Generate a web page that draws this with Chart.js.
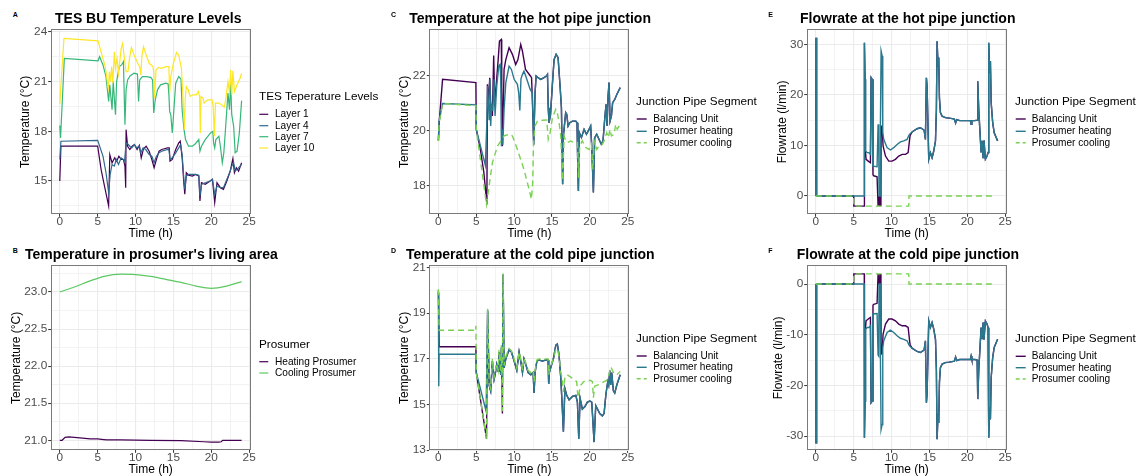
<!DOCTYPE html>
<html><head><meta charset="utf-8">
<script src="https://cdn.jsdelivr.net/npm/chart.js"></script>
<style>
html,body{margin:0;padding:0;background:#fff;width:1140px;height:476px;overflow:hidden;position:relative;font-family:"Liberation Sans",Arial,sans-serif;}
canvas{position:absolute;}
.t{position:absolute;white-space:nowrap;line-height:1;color:#000;}
</style></head><body>
<script>
// ---------------- DATA ----------------
const xMajor = [0,5,10,15,20,25];
const xMinor = [2.5,7.5,12.5,17.5,22.5];

const aNames = ['Layer 1','Layer 4','Layer 7','Layer 10'];
const bNames = ['Heating Prosumer','Cooling Prosumer'];
const pipeNames = ['Balancing Unit','Prosumer heating','Prosumer cooling'];

const aYMajor=[15,18,21,24], aYMinor=[13.5,16.5,19.5,22.5];
const bYMajor=[21,21.5,22,22.5,23], bYMinor=[21.25,21.75,22.25,22.75,23.25];
const cYMajor=[18,20,22], cYMinor=[17,19,21,23];
const dYMajor=[13,15,17,19,21], dYMinor=[14,16,18,20];
const eYMajor=[0,10,20,30], eYMinor=[5,15,25];
const fYMajor=[-30,-20,-10,0], fYMinor=[-25,-15,-5];

// Panel A: TES layers [time h, temperature °C]
const aLayer1=[[0,15.0],[0.15,17.1],[5.0,17.1],[5.45,15.7],[5.9,14.7],[6.45,13.5],[6.6,16.6],[6.9,16.1],[7.25,16.4],[7.5,16.2],[7.8,16.5],[8.1,16.3],[8.4,16.3],[8.6,15.9],[8.7,14.6],[8.75,18.1],[8.95,17.1],[9.25,16.9],[9.55,17.1],[9.85,17.2],[10.2,16.9],[10.5,17.15],[10.75,16.4],[11.05,16.95],[11.4,17.1],[11.8,16.8],[12.15,16.3],[12.45,15.8],[12.75,16.3],[13.1,16.8],[13.45,16.9],[13.8,16.95],[14.2,17.0],[14.45,17.0],[14.55,16.2],[14.85,16.3],[15.3,16.9],[15.7,17.3],[15.9,17.4],[16.15,16.4],[16.35,15.0],[16.5,14.2],[16.7,15.5],[17.0,15.35],[17.5,15.3],[17.9,15.4],[18.35,15.3],[18.5,13.8],[18.7,14.9],[19.2,14.8],[19.85,15.0],[20.15,15.1],[20.45,13.7],[20.75,14.9],[21.2,14.6],[21.6,14.5],[22.05,15.0],[22.5,15.6],[22.85,16.35],[23.05,15.5],[23.3,15.8],[23.6,15.6],[24.0,16.1]];
const aLayer4=[[0,16.3],[0.15,17.4],[5.0,17.45],[5.7,16.5],[6.1,15.5],[6.45,14.3],[6.65,15.4],[6.9,16.0],[7.2,15.9],[7.45,16.3],[7.75,16.0],[8.1,16.4],[8.4,16.3],[8.55,16.2],[8.75,17.3],[8.95,17.25],[9.25,17.1],[9.5,17.0],[9.85,17.2],[10.15,17.0],[10.5,17.1],[10.7,16.7],[11.0,17.0],[11.35,16.9],[11.8,16.6],[12.15,16.5],[12.45,16.1],[12.75,16.5],[13.1,16.7],[13.45,16.8],[13.8,16.85],[14.2,16.9],[14.4,16.9],[14.55,16.3],[14.85,16.4],[15.3,16.7],[15.7,17.0],[15.95,17.2],[16.15,16.6],[16.35,15.3],[16.5,14.5],[16.7,15.3],[17.0,15.4],[17.5,15.4],[17.9,15.4],[18.35,15.35],[18.5,14.1],[18.7,14.8],[19.2,14.9],[19.85,15.0],[20.15,15.1],[20.45,14.2],[20.75,14.7],[21.2,14.6],[21.6,14.6],[22.05,15.1],[22.5,15.6],[22.7,15.9],[22.95,16.1],[23.15,15.6],[23.6,15.8],[24.0,16.0]];
const aLayer7=[[0,18.35],[0.1,17.6],[0.6,22.4],[5.05,22.25],[5.25,22.5],[5.7,22.0],[6.1,21.3],[6.45,19.8],[6.6,20.8],[6.9,19.3],[7.05,21.0],[7.35,19.0],[7.5,21.0],[7.85,21.9],[8.15,22.0],[8.4,22.2],[8.6,18.4],[8.75,20.5],[8.95,21.1],[9.3,21.35],[9.8,21.5],[10.25,21.45],[10.4,19.8],[10.55,21.1],[10.9,21.3],[11.4,21.3],[12.0,21.25],[12.25,21.1],[12.4,19.1],[12.6,19.9],[12.9,20.5],[13.3,20.8],[14.0,20.9],[14.3,20.85],[14.4,20.2],[14.5,19.2],[14.65,19.0],[14.85,17.9],[15.3,20.9],[15.7,21.3],[16.0,21.15],[16.15,19.3],[16.4,18.1],[16.6,17.5],[17.0,17.1],[17.5,17.1],[17.9,17.25],[18.35,17.5],[18.5,16.8],[18.7,17.1],[19.2,17.5],[19.9,17.9],[20.2,18.0],[20.3,17.3],[20.45,17.0],[20.6,17.5],[21.0,17.7],[21.2,17.1],[21.45,16.1],[21.65,16.7],[21.9,18.3],[22.2,20.3],[22.4,19.3],[22.55,20.9],[22.7,19.0],[22.95,18.3],[23.15,16.7],[23.4,16.8],[23.7,17.9],[24.0,19.85]];
const aLayer10=[[0,19.65],[0.1,20.4],[0.55,23.6],[5.05,23.45],[5.5,22.7],[6.0,21.9],[6.4,20.6],[6.55,21.6],[6.7,21.0],[6.85,21.9],[7.0,20.9],[7.2,22.8],[7.35,21.8],[7.55,22.4],[7.75,21.5],[8.1,23.0],[8.3,23.3],[8.5,22.5],[8.75,21.6],[9.0,21.6],[9.2,22.4],[9.45,23.05],[9.8,22.6],[10.3,22.1],[10.55,21.9],[10.7,21.4],[10.85,22.6],[11.05,23.1],[11.4,22.6],[11.8,22.1],[12.3,21.9],[12.4,21.6],[12.5,20.0],[12.7,21.7],[13.0,21.85],[13.4,21.8],[14.0,21.9],[14.4,21.9],[14.5,20.3],[14.65,21.3],[15.0,22.1],[15.4,22.75],[15.7,22.6],[16.05,21.8],[16.25,20.2],[16.45,18.1],[16.55,19.9],[16.7,20.7],[16.95,20.5],[17.2,20.1],[17.6,20.2],[18.0,20.2],[18.3,20.4],[18.45,20.1],[18.55,17.9],[18.65,20.1],[18.9,20.0],[19.05,19.7],[19.5,19.9],[20.1,19.9],[20.25,19.5],[20.4,17.7],[20.55,19.7],[21.0,19.7],[21.5,19.55],[21.7,19.45],[21.9,19.9],[22.2,21.0],[22.4,20.3],[22.55,21.7],[22.7,20.2],[22.85,21.65],[23.05,20.4],[23.4,20.8],[23.8,21.2],[24.0,21.5]];

// Panel B: living area temperature
const bHeating=[[0,21.0],[0.3,21.0],[0.7,21.04],[1.2,21.045],[3,21.03],[4,21.02],[5,21.02],[5.8,21.01],[6.2,21.005],[8,21.005],[12,21.0],[16,20.995],[19,20.98],[20,20.975],[21,20.975],[21.3,20.98],[21.5,21.0],[24,21.0]];
const bCooling=[[0,23.0],[2,23.07],[4,23.15],[6,23.215],[8,23.24],[10,23.235],[12,23.21],[14,23.17],[16,23.13],[18,23.08],[20,23.05],[22,23.08],[24,23.14]];

// Panel C: hot pipe junction temperature
const cBalancing=[[0,19.65],[0.1,20.3],[0.55,21.88],[4.95,21.76],[5.0,20.06],[5.5,19.4],[6.0,18.5],[6.4,17.33],[6.47,21.7],[6.6,21.03],[6.78,21.94],[6.9,21.03],[7.13,20.55],[7.3,22.75],[7.44,20.9],[7.57,21.45],[7.88,22.55],[8.06,23.27],[8.3,23.33],[8.36,21.64],[8.45,19.45],[8.67,22.24],[8.9,22.6],[9.33,23.03],[9.77,22.79],[10.2,22.42],[10.5,22.6],[10.87,23.15],[11.1,22.9],[11.5,22.24],[12.1,22.02],[12.3,21.94],[12.43,20.9],[12.5,20.3],[12.58,19.5],[12.76,21.39],[12.9,22.0],[13.16,21.94],[13.5,21.88],[13.95,21.94],[14.25,22.0],[14.4,22.06],[14.5,20.85],[14.6,20.3],[14.8,20.6],[15.05,21.7],[15.27,22.6],[15.54,22.79],[15.8,22.67],[16.06,21.64],[16.24,20.85],[16.4,18.06],[16.5,19.82],[16.8,20.67],[16.95,20.6],[17.12,20.18],[17.34,20.3],[17.7,20.36],[18.14,20.36],[18.3,20.3],[18.4,18.73],[18.48,17.82],[18.6,19.94],[18.88,19.76],[19.23,20.06],[19.54,19.88],[19.89,20.06],[20.1,20.18],[20.24,19.45],[20.46,17.76],[20.63,19.76],[20.9,19.88],[21.2,19.7],[21.5,19.52],[21.73,19.64],[21.95,20.42],[22.13,20.97],[22.26,20.18],[22.4,21.27],[22.53,21.76],[22.66,20.36],[22.84,20.55],[23.0,21.03],[23.28,21.15],[23.55,21.33],[24.0,21.58]];
const cHeating=[[0,19.65],[0.1,20.36],[0.55,21.0],[4.95,20.95],[5.0,20.06],[6.2,18.75],[6.4,20.36],[6.5,21.64],[6.7,20.42],[6.8,21.88],[6.9,20.18],[7.05,20.97],[7.17,20.73],[7.35,21.88],[7.48,20.55],[7.7,21.64],[7.97,22.36],[8.14,22.42],[8.23,21.88],[8.32,19.45],[8.4,20.06],[8.5,19.5],[8.67,20.79],[8.9,21.76],[9.33,22.36],[9.64,22.24],[10.0,21.88],[10.43,21.7],[10.6,21.4],[10.75,20.75],[10.9,21.9],[11.1,22.06],[11.3,22.18],[11.75,21.82],[12.1,21.52],[12.4,21.39],[12.5,20.3],[12.58,19.5],[12.76,21.39],[12.9,22.0],[13.16,21.94],[13.5,21.88],[13.95,21.94],[14.25,22.0],[14.4,22.06],[14.5,20.85],[14.6,20.3],[14.8,20.6],[15.05,21.7],[15.27,22.6],[15.54,22.79],[15.8,22.67],[16.06,21.64],[16.24,20.85],[16.4,18.06],[16.5,19.82],[16.8,20.67],[16.95,20.6],[17.12,20.18],[17.34,20.3],[17.7,20.36],[18.14,20.36],[18.3,20.3],[18.4,18.73],[18.48,17.82],[18.6,19.94],[18.88,19.76],[19.23,20.06],[19.54,19.88],[19.89,20.06],[20.1,20.18],[20.24,19.45],[20.46,17.76],[20.63,19.76],[20.9,19.88],[21.2,19.7],[21.5,19.52],[21.73,19.64],[21.95,20.42],[22.13,20.97],[22.26,20.18],[22.4,21.27],[22.53,21.76],[22.66,20.36],[22.84,20.55],[23.0,21.03],[23.28,21.15],[23.55,21.33],[24.0,21.58]];
const cCooling=[[0,19.64],[0.1,20.3],[0.55,21.0],[4.95,20.92],[5.0,20.06],[6.35,17.33],[6.5,17.63],[7.13,18.85],[7.8,19.45],[8.67,19.82],[9.33,19.88],[9.77,19.82],[10.43,19.33],[11.3,18.6],[11.97,17.88],[12.28,17.52],[12.45,18.12],[12.55,19.57],[12.76,20.18],[13.07,20.36],[13.73,20.39],[14.3,20.4],[14.5,19.7],[14.75,19.94],[15.05,20.48],[15.49,20.79],[15.7,20.67],[15.93,20.3],[16.15,19.82],[16.4,18.2],[16.6,19.82],[16.8,19.64],[17.0,19.58],[17.47,19.64],[17.9,19.58],[18.35,19.58],[18.5,18.3],[18.65,19.45],[19.0,19.64],[19.45,19.4],[19.9,19.33],[20.2,19.52],[20.4,18.6],[20.55,19.64],[20.9,19.33],[21.2,19.45],[21.65,19.52],[21.87,19.64],[22.22,19.94],[22.44,19.76],[22.66,20.06],[22.84,19.82],[23.2,19.88],[23.4,20.24],[23.6,20.06],[24.0,20.24]];

// Panel D: cold pipe junction temperature
const dBalancing=[[0,20.0],[0.1,17.53],[4.95,17.53],[5.0,16.4],[6.35,13.5],[6.5,19.1],[6.7,15.85],[6.9,15.6],[7.13,16.9],[7.35,16.1],[7.48,16.3],[7.7,16.75],[7.88,16.45],[8.0,17.3],[8.23,16.3],[8.32,17.5],[8.45,14.6],[8.54,20.7],[8.67,16.6],[8.9,17.0],[9.33,17.4],[9.64,17.3],[10.0,16.9],[10.35,16.5],[10.65,17.3],[10.87,16.9],[11.1,16.4],[11.3,17.0],[11.5,16.8],[11.84,16.4],[12.2,16.3],[12.5,16.4],[12.63,15.5],[12.76,16.4],[13.0,16.9],[13.3,16.95],[13.73,16.9],[14.17,16.95],[14.48,16.95],[14.56,15.9],[14.65,16.4],[14.9,16.7],[15.18,17.0],[15.5,17.6],[15.7,17.65],[15.93,17.15],[16.15,16.2],[16.32,15.1],[16.5,13.8],[16.7,15.7],[16.94,15.4],[17.25,15.2],[17.7,15.35],[18.14,15.4],[18.35,15.1],[18.53,13.5],[18.7,15.28],[19.0,14.8],[19.32,14.9],[19.67,15.1],[20.0,15.15],[20.24,15.1],[20.37,14.4],[20.55,13.35],[20.77,14.95],[21.0,14.8],[21.3,14.6],[21.65,14.5],[21.87,14.6],[22.1,15.4],[22.22,15.7],[22.36,16.0],[22.48,15.85],[22.62,16.5],[22.75,15.85],[22.88,16.4],[23.1,15.6],[23.28,15.5],[23.55,15.85],[24.0,16.3]];
const dHeating=[[0,19.9],[0.05,15.8],[0.1,17.2],[4.95,17.2],[5.0,16.4],[6.3,14.7],[6.38,14.7],[6.5,19.15],[6.7,15.85],[6.9,15.6],[7.13,16.9],[7.35,16.1],[7.48,16.3],[7.7,16.75],[7.88,16.45],[8.0,17.3],[8.23,16.3],[8.32,17.5],[8.45,16.0],[8.54,20.7],[8.67,16.6],[8.9,17.0],[9.33,17.4],[9.64,17.3],[10.0,16.9],[10.35,16.5],[10.65,17.3],[10.87,16.9],[11.1,16.4],[11.3,17.0],[11.5,16.8],[11.84,16.4],[12.2,16.3],[12.5,16.4],[12.63,15.5],[12.76,16.4],[13.0,16.9],[13.3,16.95],[13.73,16.9],[14.17,16.95],[14.48,16.95],[14.56,15.9],[14.65,16.4],[14.9,16.7],[15.18,17.0],[15.5,17.6],[15.7,17.65],[15.93,17.15],[16.15,16.2],[16.32,15.1],[16.5,13.8],[16.7,15.7],[16.94,15.4],[17.25,15.2],[17.7,15.35],[18.14,15.4],[18.35,15.1],[18.53,13.5],[18.7,15.28],[19.0,14.8],[19.32,14.9],[19.67,15.1],[20.0,15.15],[20.24,15.1],[20.37,14.4],[20.55,13.35],[20.77,14.95],[21.0,14.8],[21.3,14.6],[21.65,14.5],[21.87,14.6],[22.1,15.4],[22.22,15.7],[22.36,16.0],[22.48,15.85],[22.62,16.5],[22.75,15.85],[22.88,16.4],[23.1,15.6],[23.28,15.5],[23.55,15.85],[24.0,16.3]];
const dCooling=[[0,20.05],[0.1,18.25],[4.9,18.25],[4.95,18.45],[5.0,16.4],[6.35,13.5],[6.5,19.2],[6.7,15.9],[6.9,15.7],[7.13,17.0],[7.35,16.2],[7.48,16.4],[7.7,16.8],[7.88,16.5],[8.0,17.4],[8.23,16.4],[8.32,17.6],[8.45,14.7],[8.54,20.75],[8.67,16.7],[8.9,17.1],[9.33,17.45],[9.64,17.35],[10.0,17.0],[10.35,16.6],[10.65,17.3],[10.87,17.0],[11.1,16.5],[11.3,17.05],[11.5,16.85],[11.84,16.5],[12.2,16.4],[12.5,16.5],[12.63,16.0],[12.76,16.5],[13.0,16.95],[13.3,17.0],[13.73,16.95],[14.17,17.0],[14.48,17.0],[14.56,16.3],[14.65,16.5],[14.9,16.75],[15.18,17.0],[15.5,17.4],[15.7,17.45],[15.93,17.1],[16.15,16.4],[16.32,16.2],[16.5,15.55],[16.7,16.2],[17.0,16.3],[17.47,16.2],[17.9,16.1],[18.25,16.0],[18.43,15.3],[18.56,15.5],[18.8,15.85],[19.2,16.0],[19.67,16.05],[20.1,16.05],[20.33,16.0],[20.46,15.3],[20.63,15.8],[21.0,15.85],[21.4,15.9],[21.87,16.0],[22.22,16.05],[22.44,16.2],[22.75,16.65],[22.97,16.5],[23.2,16.35],[23.55,16.3],[24.0,16.45]];

// Panel E: hot pipe junction flowrate [time h, l/min]
const eBalancing=[[0,0],[0.03,31.3],[0.07,0],[0.11,31.0],[0.15,0],[5.0,0],[5.02,-2],[6.4,-2],[6.42,30.3],[6.5,23.1],[6.55,8.9],[6.64,7.25],[7.0,6.8],[7.21,6.6],[7.3,23.4],[7.43,23.1],[7.55,4.2],[7.65,4.0],[8.09,3.8],[8.2,3.8],[8.22,-2],[8.35,0],[8.45,-2],[8.52,0],[8.6,-2],[8.62,13.8],[8.76,13.5],[8.88,9.9],[9.2,7.9],[9.63,6.9],[10.07,6.9],[10.51,7.25],[10.95,7.9],[11.4,8.24],[11.84,8.24],[12.19,8.57],[12.36,10.9],[12.45,12.0],[12.71,12.65],[13.37,13.3],[13.81,13.5],[14.12,13.2],[14.3,13.0],[14.47,11.2],[14.6,23.4],[14.69,21.75],[14.91,7.25],[15.13,8.57],[15.35,7.58],[15.57,8.9],[15.8,10.9],[15.92,17.1],[16.01,30.6],[16.14,25.7],[16.23,27.4],[16.32,19.4],[16.45,16.5],[16.67,15.8],[17.1,15.5],[17.6,15.4],[18.0,15.3],[18.3,15.2],[18.45,14.4],[18.6,15.1],[19.0,14.9],[19.5,14.9],[20.0,14.9],[20.4,14.9],[20.5,14.2],[20.6,14.9],[21.0,14.9],[21.3,15.0],[21.38,22.7],[21.51,17.1],[21.82,8.6],[21.95,10.9],[22.08,7.6],[22.2,11.0],[22.39,7.3],[22.61,7.9],[22.74,8.6],[22.83,30.3],[22.95,24.4],[23.05,26.7],[23.15,18.5],[23.35,14.5],[23.55,12.5],[24.0,10.9]];
const eHeating=[[0,0],[0.03,31.3],[0.07,0],[0.11,31.0],[0.15,0],[6.38,0],[6.42,30.3],[6.5,23.1],[6.58,8.9],[6.78,8.57],[7.0,8.57],[7.21,8.24],[7.3,23.4],[7.43,23.1],[7.52,5.9],[8.09,5.8],[8.2,5.8],[8.22,14.0],[8.3,14.2],[8.35,0],[8.5,0],[8.53,14.2],[8.62,28.7],[8.76,27.7],[8.84,12.5],[8.97,11.2],[9.41,9.56],[9.85,9.1],[10.29,9.56],[10.73,10.2],[11.17,10.7],[11.61,10.9],[12.05,11.2],[12.36,12.2],[12.71,12.65],[13.37,13.3],[13.81,13.5],[14.12,13.2],[14.3,13.0],[14.47,11.2],[14.6,23.4],[14.69,21.75],[14.91,7.25],[15.13,8.57],[15.35,7.58],[15.57,8.9],[15.8,10.9],[15.92,17.1],[16.01,30.6],[16.14,25.7],[16.23,27.4],[16.32,19.4],[16.45,16.5],[16.67,15.8],[17.1,15.5],[17.6,15.4],[18.0,15.3],[18.3,15.2],[18.45,14.4],[18.6,15.1],[19.0,14.9],[19.5,14.9],[20.0,14.9],[20.4,14.9],[20.5,14.2],[20.6,14.9],[21.0,14.9],[21.3,15.0],[21.38,22.7],[21.51,17.1],[21.82,8.6],[21.95,10.9],[22.08,7.6],[22.2,11.0],[22.39,7.3],[22.61,7.9],[22.74,8.6],[22.83,30.3],[22.95,24.4],[23.05,26.7],[23.15,18.5],[23.35,14.5],[23.55,12.5],[24.0,10.9]];
const eCooling=[[0,0],[5.0,0],[5.02,-2],[12.27,-2],[12.3,0],[23.3,0]];

// Panel F: cold pipe junction flowrate
const fBalancing=[[0,0],[0.03,-31.3],[0.07,0],[0.11,-31.0],[0.15,0],[5.0,0],[5.02,2],[6.4,2],[6.42,-30.3],[6.5,-23.1],[6.55,-8.9],[6.64,-7.25],[7.0,-6.8],[7.21,-6.6],[7.3,-23.4],[7.43,-23.1],[7.55,-4.2],[7.65,-4.0],[8.09,-3.8],[8.2,-3.8],[8.22,2],[8.35,0],[8.45,2],[8.52,0],[8.6,2],[8.62,-13.8],[8.76,-13.5],[8.88,-9.9],[9.2,-7.9],[9.63,-6.9],[10.07,-6.9],[10.51,-7.25],[10.95,-7.9],[11.4,-8.24],[11.84,-8.24],[12.19,-8.57],[12.36,-10.9],[12.45,-12.0],[12.71,-12.65],[13.37,-13.3],[13.81,-13.5],[14.12,-13.2],[14.3,-13.0],[14.47,-11.2],[14.6,-23.4],[14.69,-21.75],[14.91,-7.25],[15.13,-8.57],[15.35,-7.58],[15.57,-8.9],[15.8,-10.9],[15.92,-17.1],[16.01,-30.6],[16.14,-25.7],[16.23,-27.4],[16.32,-19.4],[16.45,-16.5],[16.67,-15.8],[17.1,-15.5],[17.6,-15.4],[18.0,-15.3],[18.3,-15.2],[18.45,-14.4],[18.6,-15.1],[19.0,-14.9],[19.5,-14.9],[20.0,-14.9],[20.4,-14.9],[20.5,-14.2],[20.6,-14.9],[21.0,-14.9],[21.3,-15.0],[21.38,-22.7],[21.51,-17.1],[21.82,-8.6],[21.95,-10.9],[22.08,-7.6],[22.2,-11.0],[22.39,-7.3],[22.61,-7.9],[22.74,-8.6],[22.83,-30.3],[22.95,-24.4],[23.05,-26.7],[23.15,-18.5],[23.35,-14.5],[23.55,-12.5],[24.0,-10.9]];
const fHeating=[[0,0],[0.03,-31.3],[0.07,0],[0.11,-31.0],[0.15,0],[6.38,0],[6.42,-30.3],[6.5,-23.1],[6.58,-8.9],[6.78,-8.57],[7.0,-8.57],[7.21,-8.24],[7.3,-23.4],[7.43,-23.1],[7.52,-5.9],[8.09,-5.8],[8.2,-5.8],[8.22,-14.0],[8.3,-14.2],[8.35,0],[8.5,0],[8.53,-14.2],[8.62,-28.7],[8.76,-27.7],[8.84,-12.5],[8.97,-11.2],[9.41,-9.56],[9.85,-9.1],[10.29,-9.56],[10.73,-10.2],[11.17,-10.7],[11.61,-10.9],[12.05,-11.2],[12.36,-12.2],[12.71,-12.65],[13.37,-13.3],[13.81,-13.5],[14.12,-13.2],[14.3,-13.0],[14.47,-11.2],[14.6,-23.4],[14.69,-21.75],[14.91,-7.25],[15.13,-8.57],[15.35,-7.58],[15.57,-8.9],[15.8,-10.9],[15.92,-17.1],[16.01,-30.6],[16.14,-25.7],[16.23,-27.4],[16.32,-19.4],[16.45,-16.5],[16.67,-15.8],[17.1,-15.5],[17.6,-15.4],[18.0,-15.3],[18.3,-15.2],[18.45,-14.4],[18.6,-15.1],[19.0,-14.9],[19.5,-14.9],[20.0,-14.9],[20.4,-14.9],[20.5,-14.2],[20.6,-14.9],[21.0,-14.9],[21.3,-15.0],[21.38,-22.7],[21.51,-17.1],[21.82,-8.6],[21.95,-10.9],[22.08,-7.6],[22.2,-11.0],[22.39,-7.3],[22.61,-7.9],[22.74,-8.6],[22.83,-30.3],[22.95,-24.4],[23.05,-26.7],[23.15,-18.5],[23.35,-14.5],[23.55,-12.5],[24.0,-10.9]];
const fCooling=[[0,0],[5.0,0],[5.02,2],[12.27,2],[12.3,0],[23.3,0]];

// ---------------- STYLE ----------------
const FONT='"Liberation Sans", Arial, sans-serif';
Chart.defaults.font.family = FONT;
const V_PURPLE='#440154', V_BLUE='#31688E', V_GREEN='#35B779', V_YELLOW='#FDE725';
const V_TEAL='#2A788E', V_LIGHT='#7AD151', V_MIDGREEN='#5DC863';
const DASH=[6,4];

const framePlugin = {
  id:'frame',
  afterDraw(chart){
    const {ctx, chartArea:a} = chart;
    ctx.save();
    ctx.strokeStyle='#7a7a7a'; ctx.lineWidth=1;
    const l=Math.round(a.left)+0.5, t=Math.round(a.top)+0.5, r=Math.round(a.right)-0.5, b=Math.round(a.bottom)-0.5;
    ctx.strokeRect(l,t,r-l,b-t);
    ctx.restore();
  }
};

function makePanel(p){
  const cl=Math.floor(p.plotL)-50, ct=Math.floor(p.plotT)-10;
  const Wy=p.plotL-cl, pt=p.plotT-ct;
  const W=Math.ceil(Wy+200+10), H=Math.ceil(pt+185+30);
  const pr=W-(Wy+200), Hx=H-pt-185;
  const cv=document.createElement('canvas');
  cv.width=W; cv.height=H;
  cv.style.left=cl+'px'; cv.style.top=ct+'px'; cv.style.width=W+'px'; cv.style.height=H+'px';
  document.body.appendChild(cv);
  const TL=2.5;
  const xAll=xMajor.concat(xMinor).sort((a,b)=>a-b);
  const yAll=p.yMajor.concat(p.yMinor).filter(v=>v>=p.ymin&&v<=p.ymax).sort((a,b)=>a-b);
  const grid=(maj)=>({
    color:'#ebebeb',
    lineWidth:c=>maj.includes(c.tick.value)?1.1:0.6,
    tickColor:c=>maj.includes(c.tick.value)?'#333333':'rgba(0,0,0,0)',
    tickLength:TL, tickWidth:1, drawTicks:true
  });
  const n=p.series.length;
  new Chart(cv,{
    type:'line',
    data:{datasets:p.series.map((s,i)=>({
      label:s.label, data:s.data, borderColor:s.color, borderWidth:p.lw,
      borderDash:s.dash||[], pointRadius:0, fill:false, order:n-i,
      cubicInterpolationMode:s.smooth?'monotone':'default', tension:s.smooth?0.4:0
    }))},
    options:{
      responsive:false, animation:false, devicePixelRatio:1, events:[],
      layout:{padding:{left:0,top:pt,right:pr,bottom:0}},
      plugins:{legend:{display:false},tooltip:{enabled:false},title:{display:false}},
      scales:{
        x:{type:'linear',min:-1.2,max:25.2,
          afterBuildTicks:s=>{s.ticks=xAll.map(v=>({value:v}));},
          afterFit:s=>{s.height=Hx;},
          ticks:{callback:v=>xMajor.includes(v)?String(v):'',padding:-1.3,autoSkip:false,maxRotation:0,
                 font:{size:11.8,lineHeight:1},color:'#4d4d4d'},
          grid:grid(xMajor), border:{display:false},
          title:{display:true,text:'Time (h)',color:'#000',font:{size:12,lineHeight:1},
                 padding:{top:0,bottom:(ct+H)-p.xTitleY-6}}
        },
        y:{type:'linear',min:p.ymin,max:p.ymax,
          afterBuildTicks:s=>{s.ticks=yAll.map(v=>({value:v}));},
          afterFit:s=>{s.width=Wy;},
          ticks:{callback:v=>p.yMajor.includes(v)?(p.dec?v.toFixed(p.dec):String(v)):'',padding:1,autoSkip:false,
                 font:{size:11.8,lineHeight:1},color:'#4d4d4d'},
          grid:grid(p.yMajor), border:{display:false},
          title:{display:true,text:p.yTitle,color:'#000',font:{size:12,lineHeight:1},
                 padding:{top:p.yTitleX-cl-6,bottom:0}}
        }
      }
    },
    plugins:[framePlugin]
  });
}

const panels=[
  {plotL:50.7,plotT:29.3,yTitleX:25.7,xTitleY:233.5,ymin:12.995,ymax:24.15,yMajor:aYMajor,yMinor:aYMinor,dec:0,yTitle:'Temperature (°C)',lw:1.2,
   series:[{label:aNames[0],data:aLayer1,color:V_PURPLE},{label:aNames[1],data:aLayer4,color:V_BLUE},{label:aNames[2],data:aLayer7,color:V_GREEN},{label:aNames[3],data:aLayer10,color:V_YELLOW}]},
  {plotL:50.7,plotT:265.3,yTitleX:16.7,xTitleY:469.5,ymin:20.865,ymax:23.36,yMajor:bYMajor,yMinor:bYMinor,dec:1,yTitle:'Temperature (°C)',lw:1.2,
   series:[{label:bNames[0],data:bHeating,color:V_PURPLE},{label:bNames[1],data:bCooling,color:V_MIDGREEN,smooth:true}]},
  {plotL:429.3,plotT:29.3,yTitleX:404.7,xTitleY:233.5,ymin:16.97,ymax:23.70,yMajor:cYMajor,yMinor:cYMinor,dec:0,yTitle:'Temperature (°C)',lw:1.4,
   series:[{label:pipeNames[0],data:cBalancing,color:V_PURPLE},{label:pipeNames[1],data:cHeating,color:V_TEAL},{label:pipeNames[2],data:cCooling,color:V_LIGHT,dash:DASH}]},
  {plotL:429.3,plotT:265.3,yTitleX:405,xTitleY:469.5,ymin:12.99,ymax:21.1,yMajor:dYMajor,yMinor:dYMinor,dec:0,yTitle:'Temperature (°C)',lw:1.4,
   series:[{label:pipeNames[0],data:dBalancing,color:V_PURPLE},{label:pipeNames[1],data:dHeating,color:V_TEAL},{label:pipeNames[2],data:dCooling,color:V_LIGHT,dash:DASH}]},
  {plotL:806.7,plotT:29.3,yTitleX:782.3,xTitleY:233.5,ymin:-3.62,ymax:32.97,yMajor:eYMajor,yMinor:eYMinor,dec:0,yTitle:'Flowrate (l/min)',lw:1.4,
   series:[{label:pipeNames[0],data:eBalancing,color:V_PURPLE},{label:pipeNames[1],data:eHeating,color:V_TEAL},{label:pipeNames[2],data:eCooling,color:V_LIGHT,dash:DASH}]},
  {plotL:806.7,plotT:265.3,yTitleX:778.3,xTitleY:469.5,ymin:-32.8,ymax:3.7,yMajor:fYMajor,yMinor:fYMinor,dec:0,yTitle:'Flowrate (l/min)',lw:1.4,
   series:[{label:pipeNames[0],data:fBalancing,color:V_PURPLE},{label:pipeNames[1],data:fHeating,color:V_TEAL},{label:pipeNames[2],data:fCooling,color:V_LIGHT,dash:DASH}]}
];
panels.forEach(makePanel);

// ---------------- TEXT: titles, letters, legends ----------------
function addText(str,x,top,size,bold){
  const d=document.createElement('div'); d.className='t'; d.textContent=str;
  d.style.left=x+'px'; d.style.top=top+'px'; d.style.fontSize=size+'px';
  if(bold) d.style.fontWeight='bold';
  document.body.appendChild(d);
}
const TS=14, LS=7;
const titles=[
  ['A',12.7,17.3,'TES BU Temperature Levels',55,23.3],
  ['B',12.7,253.3,"Temperature in prosumer's living area",25,259.3],
  ['C',391,16.8,'Temperature at the hot pipe junction',409.3,23.3],
  ['D',391,253.3,'Temperature at the cold pipe junction',406,259.3],
  ['E',768.3,16.8,'Flowrate at the hot pipe junction',800,23.3],
  ['F',768.3,253.3,'Flowrate at the cold pipe junction',796.7,259.3]
];
titles.forEach(t=>{
  addText(t[0],t[1],t[2]-0.8465*LS,LS,true);
  addText(t[3],t[4],t[5]-0.8465*TS,TS,true);
});

const svgNS='http://www.w3.org/2000/svg';
const svg=document.createElementNS(svgNS,'svg');
svg.setAttribute('width','1140'); svg.setAttribute('height','476');
svg.style.position='absolute'; svg.style.left='0'; svg.style.top='0';
document.body.appendChild(svg);
function keyLine(x1,x2,y,color,dash,lw){
  const l=document.createElementNS(svgNS,'line');
  l.setAttribute('x1',x1); l.setAttribute('x2',x2); l.setAttribute('y1',y); l.setAttribute('y2',y);
  l.setAttribute('stroke',color); l.setAttribute('stroke-width',lw);
  if(dash) l.setAttribute('stroke-dasharray','4,3');
  svg.appendChild(l);
}
const LT=11.75, LI=10.1;
const legends=[
  {title:'TES Teperature Levels',tx:259,ty:95.8,kx:259.3,kw:9,textX:275,lw:1.2,
   items:[[aNames[0],V_PURPLE,114.3],[aNames[1],V_BLUE,125.7],[aNames[2],V_GREEN,136.7],[aNames[3],V_YELLOW,148]]},
  {title:'Prosumer',tx:259,ty:343.5,kx:259.3,kw:9,textX:275,lw:1.2,
   items:[[bNames[0],V_PURPLE,361.7],[bNames[1],V_MIDGREEN,373]]},
  {title:'Junction Pipe Segment',tx:636,ty:101,kx:636.7,kw:10,textX:653.3,lw:1.4,
   items:[[pipeNames[0],V_PURPLE,119],[pipeNames[1],V_TEAL,131.3],[pipeNames[2],V_LIGHT,142.7,true]]},
  {title:'Junction Pipe Segment',tx:636,ty:337.5,kx:636.7,kw:10,textX:653.3,lw:1.4,
   items:[[pipeNames[0],V_PURPLE,356],[pipeNames[1],V_TEAL,367.3],[pipeNames[2],V_LIGHT,378.7,true]]},
  {title:'Junction Pipe Segment',tx:1015,ty:101,kx:1015.7,kw:10,textX:1031.7,lw:1.4,
   items:[[pipeNames[0],V_PURPLE,119],[pipeNames[1],V_TEAL,131.3],[pipeNames[2],V_LIGHT,142.7,true]]},
  {title:'Junction Pipe Segment',tx:1015,ty:337.5,kx:1015.7,kw:10,textX:1031.7,lw:1.4,
   items:[[pipeNames[0],V_PURPLE,356.3],[pipeNames[1],V_TEAL,367.7],[pipeNames[2],V_LIGHT,379,true]]}
];
legends.forEach(L=>{
  addText(L.title,L.tx,L.ty-0.4885*LT,LT,false);
  L.items.forEach(it=>{
    keyLine(L.kx,L.kx+L.kw,it[2],it[1],it[3],L.lw);
    addText(it[0],L.textX,it[2]-0.5*LI,LI,false);
  });
});
</script>
</body></html>
